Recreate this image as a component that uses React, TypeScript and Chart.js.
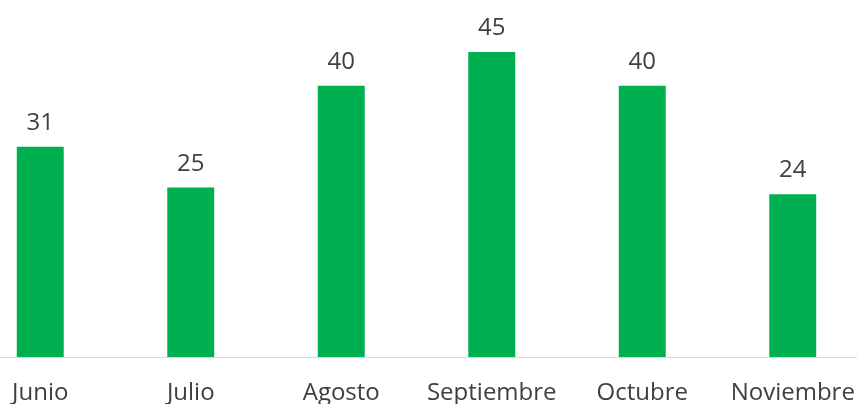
import React, { useEffect, useRef } from "react";
import { Chart, registerables } from "chart.js";

Chart.register(...registerables);

const categories = ["Junio", "Julio", "Agosto", "Septiembre", "Octubre", "Noviembre"];
const values = [31, 25, 40, 45, 40, 24];

const FONT = "'Open Sans', Lato, sans-serif";
const TEXT = "#404040";

const valueLabels = {
  id: "valueLabels",
  afterDatasetsDraw(chart: any) {
    const ctx = chart.ctx;
    const meta = chart.getDatasetMeta(0);
    ctx.save();
    ctx.font = `24px ${FONT}`;
    ctx.fillStyle = TEXT;
    ctx.textAlign = "center";
    ctx.textBaseline = "alphabetic";
    meta.data.forEach((el: any, i: number) => {
      ctx.fillText(String(chart.data.datasets[0].data[i]), el.x, el.y - 17);
    });
    ctx.restore();
  },
};

export default function App() {
  const ref = useRef<HTMLCanvasElement | null>(null);
  useEffect(() => {
    if (!ref.current) return;
    const chart = new Chart(ref.current, {
      type: "bar",
      data: {
        labels: categories,
        datasets: [
          {
            data: values,
            backgroundColor: "#00B050",
            borderWidth: 0,
            barPercentage: 0.312,
            categoryPercentage: 1,
          },
        ],
      },
      options: {
        responsive: false,
        animation: false,
        layout: { padding: { top: 18, left: 0, right: 0, bottom: 0 } },
        plugins: { legend: { display: false }, tooltip: { enabled: false } },
        scales: {
          x: {
            offset: true,
            grid: { display: false, drawTicks: false },
            border: { display: true, color: "#d9d9d9", width: 1 },
            ticks: {
              color: TEXT,
              font: { family: FONT, size: 24 },
              padding: 22,
              maxRotation: 0,
              autoSkip: false,
            },
            afterFit: (axis: any) => {
              axis.height = 47;
              axis.paddingLeft = 0;
              axis.paddingRight = 0;
            },
          },
          y: {
            display: false,
            min: 0,
            max: 50,
          },
        },
      },
      plugins: [valueLabels],
    });
    return () => chart.destroy();
  }, []);
  return (
    <div
      style={{
        position: "fixed",
        left: 0,
        top: 0,
        width: 857,
        height: 404,
        overflow: "hidden",
        background: "#ffffff",
      }}
    >
      <canvas
        ref={ref}
        width={903}
        height={404}
        style={{ position: "absolute", left: -35, top: 0, width: 903, height: 404 }}
      />
    </div>
  );
}
